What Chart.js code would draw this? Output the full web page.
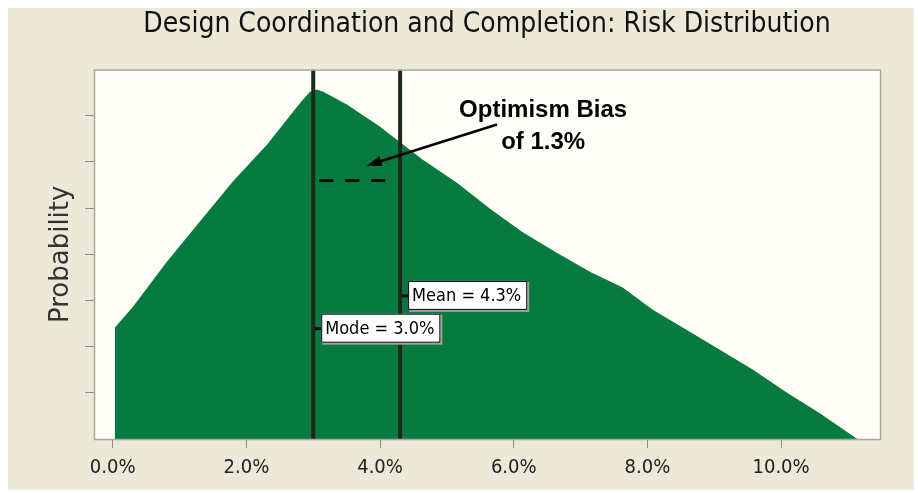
<!DOCTYPE html>
<html>
<head>
<meta charset="utf-8">
<script src="https://cdn.jsdelivr.net/npm/chart.js@4.4.1/dist/chart.umd.min.js"></script>
<style>
  html, body { margin: 0; padding: 0; background: #fff; }
  #wrap { width: 918px; height: 493px; }
</style>
</head>
<body>
<div id="wrap"><canvas id="riskChart" width="918" height="493"></canvas></div>
<script>
const titleText = 'Design Coordination and Completion: Risk Distribution';
const yTitle = 'Probability';
const xTicks = [0, 2, 4, 6, 8, 10];
const yTicks = [1, 2, 3, 4, 5, 6, 7];

// outline of the simulated distribution (x = cost growth %, y = relative probability)
const distX = [0.03, 0.30, 0.81, 1.31, 1.80, 2.31, 2.80, 2.95, 3.06, 3.15, 3.51, 4.00, 4.64, 5.15, 5.65, 6.14, 6.65, 7.14, 7.63, 8.08, 8.59, 9.09, 9.58, 10.09, 10.58, 11.14];
const distY = [2.41, 2.86, 3.84, 4.72, 5.58, 6.38, 7.27, 7.52, 7.57, 7.52, 7.24, 6.76, 6.05, 5.55, 4.98, 4.47, 4.03, 3.62, 3.28, 2.80, 2.36, 1.93, 1.50, 1.00, 0.56, 0.00];

const modeValue = 3.0;
const meanValue = 4.3;
const modeLabel = 'Mode = 3.0%';
const meanLabel = 'Mean = 4.3%';
const biasLines = ['Optimism Bias', 'of 1.3%'];

const narrow = '"DejaVu Sans Condensed", "Liberation Sans Narrow", sans-serif';

const points = distX.map((x, i) => ({ x: x, y: distY[i] }));
const vline = v => [{ x: v, y: 0 }, { x: v, y: 8 }];

const decor = {
  id: 'decor',
  beforeDraw(chart) {
    const { ctx, chartArea: a } = chart;
    ctx.save();
    ctx.fillStyle = '#ffffff';
    ctx.fillRect(0, 0, chart.width, chart.height);
    ctx.fillStyle = '#ece9d8';
    ctx.fillRect(8, 8, chart.width - 12, chart.height - 11);
    ctx.fillStyle = '#fffff7';
    ctx.fillRect(a.left, a.top, a.right - a.left, a.bottom - a.top);
    ctx.restore();
  },
  afterDatasetsDraw(chart) {
    const { ctx, chartArea: a, scales: { x, y } } = chart;
    ctx.save();
    // plot frame
    ctx.strokeStyle = '#a8a89c';
    ctx.lineWidth = 1.5;
    ctx.strokeRect(a.left + 0.5, a.top + 0.5, a.right - a.left, a.bottom - a.top);

    // mode / mean tags
    const tag = (val, yVal, text) => {
      const lx = x.getPixelForValue(val);
      const py = y.getPixelForValue(yVal);
      ctx.font = '18px ' + narrow;
      const w = ctx.measureText(text).width + 10;
      const h = 29;
      const bx = lx + 8, by = py - h / 2;
      ctx.fillStyle = '#000';
      ctx.fillRect(lx + 2, py - 1, 7, 3);
      ctx.fillStyle = '#a0a0a0';
      ctx.fillRect(bx + 1, by + 1, w + 1, h + 1);
      ctx.fillStyle = '#fff';
      ctx.fillRect(bx, by, w, h);
      ctx.strokeStyle = '#000';
      ctx.lineWidth = 1;
      ctx.strokeRect(bx + 0.5, by + 0.5, w - 1, h - 1);
      ctx.fillStyle = '#000';
      ctx.textBaseline = 'middle';
      ctx.textAlign = 'left';
      ctx.fillText(text, bx + 4, py + 1);
    };
    tag(modeValue, 2.40, modeLabel);
    tag(meanValue, 3.11, meanLabel);

    // arrow pointing at the bias gap
    const x0 = x.getPixelForValue(5.75), y0 = y.getPixelForValue(6.81);
    const x1 = x.getPixelForValue(3.80), y1 = y.getPixelForValue(5.92);
    const ang = Math.atan2(y1 - y0, x1 - x0);
    const hl = 15, hw = 5;
    ctx.strokeStyle = '#000';
    ctx.lineWidth = 2.5;
    ctx.beginPath();
    ctx.moveTo(x0, y0);
    ctx.lineTo(x1 - Math.cos(ang) * hl * 0.8, y1 - Math.sin(ang) * hl * 0.8);
    ctx.stroke();
    ctx.fillStyle = '#000';
    ctx.beginPath();
    ctx.moveTo(x1, y1);
    ctx.lineTo(x1 - Math.cos(ang) * hl - Math.sin(ang) * hw, y1 - Math.sin(ang) * hl + Math.cos(ang) * hw);
    ctx.lineTo(x1 - Math.cos(ang) * hl + Math.sin(ang) * hw, y1 - Math.sin(ang) * hl - Math.cos(ang) * hw);
    ctx.closePath();
    ctx.fill();

    // bias callout
    ctx.font = 'bold 24px "Liberation Sans", Arial, sans-serif';
    ctx.textAlign = 'center';
    ctx.textBaseline = 'alphabetic';
    const cx = x.getPixelForValue(6.44);
    ctx.fillText(biasLines[0], cx, y.getPixelForValue(6.98));
    ctx.fillText(biasLines[1], cx, y.getPixelForValue(6.27));
    ctx.restore();
  }
};

new Chart(document.getElementById('riskChart'), {
  type: 'line',
  data: {
    datasets: [
      {
        label: 'Distribution',
        data: points,
        order: 3,
        fill: 'origin',
        backgroundColor: '#077b3f',
        borderWidth: 0,
        pointRadius: 0,
        tension: 0
      },
      {
        label: 'Mode',
        data: vline(modeValue),
        order: 2,
        borderColor: '#1b2a1d',
        borderWidth: 4,
        pointRadius: 0,
        fill: false
      },
      {
        label: 'Mean',
        data: vline(meanValue),
        order: 2,
        borderColor: '#1b2a1d',
        borderWidth: 4,
        pointRadius: 0,
        fill: false
      },
      {
        label: 'Bias',
        data: [{ x: 3.09, y: 5.6 }, { x: 4.09, y: 5.6 }],
        order: 1,
        borderColor: '#000',
        borderWidth: 3,
        borderDash: [14, 12],
        pointRadius: 0,
        fill: false
      }
    ]
  },
  options: {
    responsive: false,
    animation: false,
    layout: { padding: { left: 0, right: 38, top: 0, bottom: 0 } },
    plugins: {
      legend: { display: false },
      tooltip: { enabled: false },
      title: {
        display: true,
        text: titleText,
        fullSize: false,
        color: '#111',
        font: { family: narrow, size: 28, weight: 'normal' },
        padding: { top: 8, bottom: 28 }
      }
    },
    scales: {
      x: {
        type: 'linear',
        min: -0.28,
        max: 11.48,
        afterBuildTicks: s => { s.ticks = xTicks.map(v => ({ value: v })); },
        afterFit: s => { s.height = 54; },
        border: { display: false },
        grid: { drawOnChartArea: false, drawTicks: true, tickLength: 9, color: '#8c8c8c' },
        ticks: {
          color: '#222',
          padding: 8,
          font: { family: narrow, size: 20 },
          callback: v => v.toFixed(1) + '%'
        }
      },
      y: {
        min: 0,
        max: 8,
        afterBuildTicks: s => { s.ticks = yTicks.map(v => ({ value: v })); },
        afterFit: s => { s.width = 94; },
        border: { display: false },
        grid: { drawOnChartArea: false, drawTicks: true, tickLength: 9, color: '#8c8c8c' },
        ticks: { display: false },
        title: {
          display: true,
          text: yTitle,
          color: '#333',
          font: { family: '"DejaVu Sans", sans-serif', size: 26 },
          padding: { top: 46, bottom: 0 }
        }
      }
    }
  },
  plugins: [decor]
});
</script>
</body>
</html>
